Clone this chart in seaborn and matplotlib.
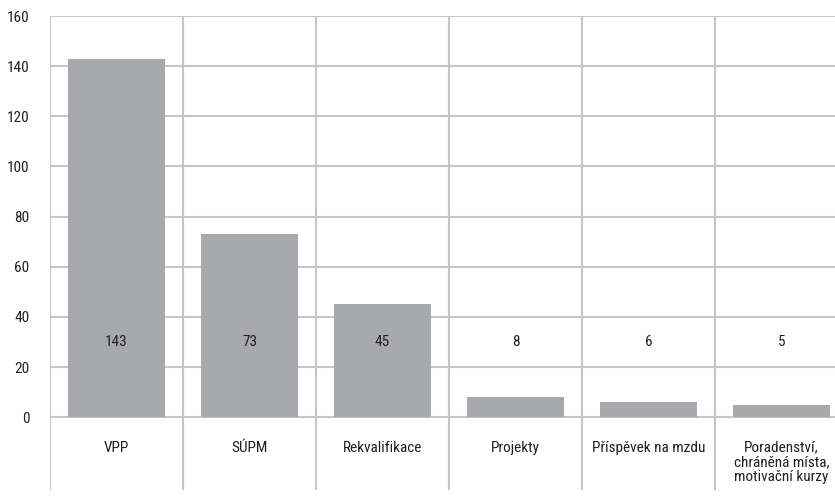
import pandas as pd
import seaborn as sns
import matplotlib.pyplot as plt
from matplotlib import font_manager

categories = ["VPP", "SÚPM", "Rekvalifikace", "Projekty", "Příspěvek na mzdu",
              "Poradenství,\nchráněná místa,\nmotivační kurzy"]
values = [143, 73, 45, 8, 6, 5]
yticks = [0, 20, 40, 60, 80, 100, 120, 140, 160]

df = pd.DataFrame({"kat": categories, "pocet": values})

names = {f.name for f in font_manager.fontManager.ttflist}

sns.set_style("white")
fams = [n for n in ['DejaVu Sans Condensed', 'Liberation Sans Narrow', 'Roboto Condensed',
                    'Open Sans Condensed', 'Roboto'] if n in names]
plt.rcParams['font.family'] = fams + ['DejaVu Sans']
plt.rcParams['font.stretch'] = 'condensed'

fig = plt.figure(figsize=(8.35, 4.96), dpi=100)
# plot area runs a bit past the right edge, like the original
ax = fig.add_axes([50 / 835, 6 / 496, 798 / 835, 474 / 496])

grid = "#c6c6c6"
for y in yticks:
    ax.axhline(y, color=grid, lw=1.5, zorder=0)
for i in range(len(categories) + 1):
    ax.axvline(i - 0.5, color=grid, lw=1.5, zorder=0)

sns.barplot(data=df, x="kat", y="pocet", color="#a7a9ac", saturation=1,
            width=0.727, edgecolor="none", linewidth=0, ax=ax, zorder=2)

fs = 11
for i, v in enumerate(values):
    ax.text(i, 30, str(v), ha="center", va="center", fontsize=fs, color="#231f20")
    ax.text(i, -9.3, categories[i], ha="center", va="top", fontsize=fs,
            color="#231f20", linespacing=1.05)

ax.set_xlim(-0.5, len(categories) - 0.5)
ax.set_ylim(-29, 160)
ax.set_yticks(yticks)
ax.set_yticklabels([str(t) for t in yticks], fontsize=fs, color="#231f20")
ax.tick_params(axis="y", length=0, pad=15)
ax.set_xticks([])
ax.set_xlabel("")
ax.set_ylabel("")
for s in ax.spines.values():
    s.set_visible(False)

fig.savefig("out.png", dpi=100)
